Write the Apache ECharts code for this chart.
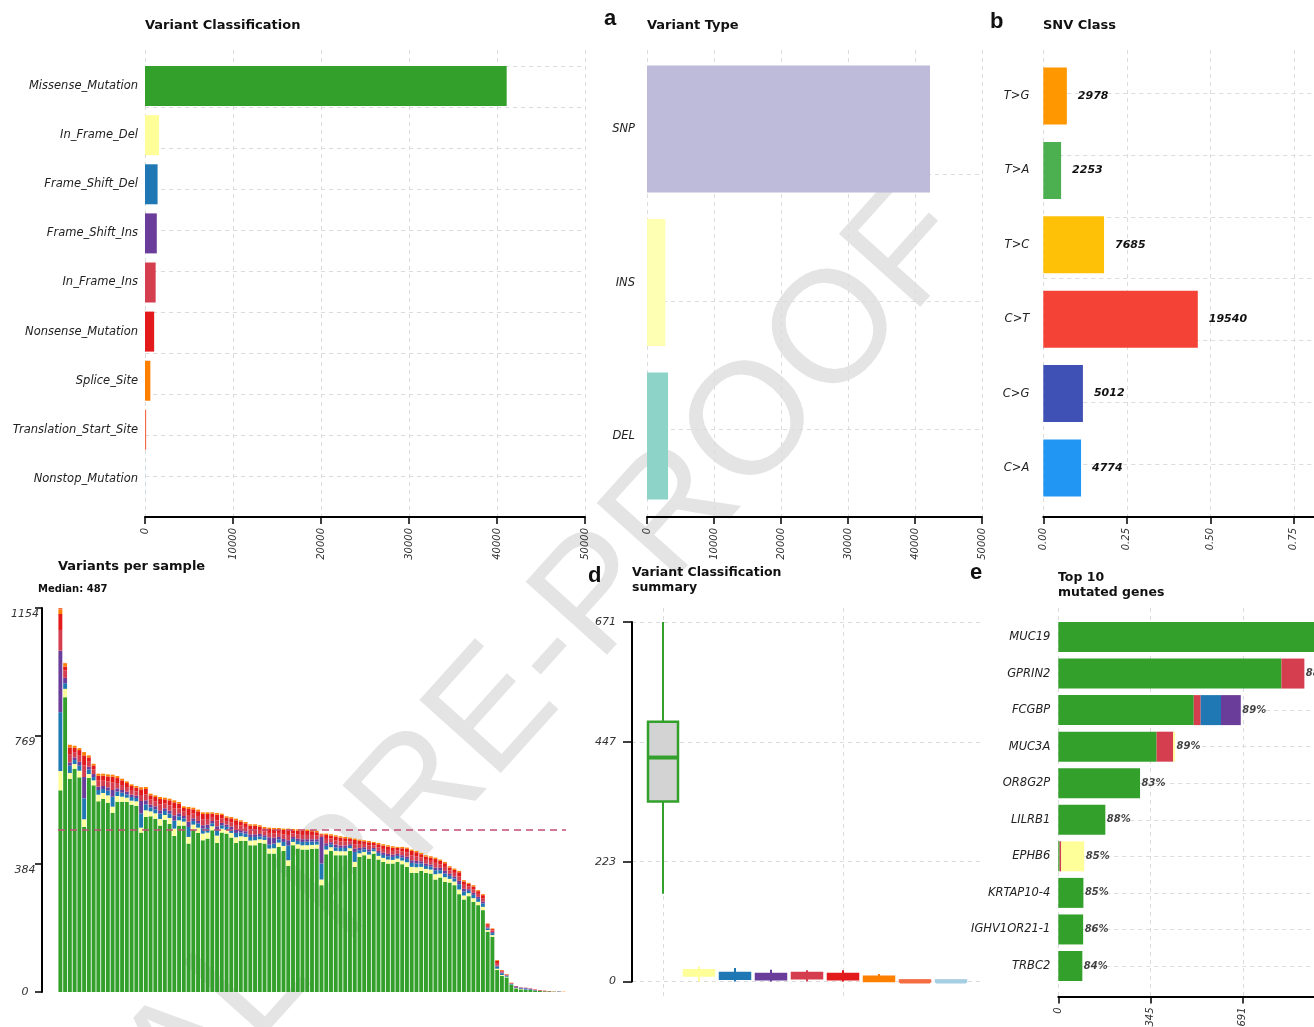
<!DOCTYPE html>
<html>
<head>
<meta charset="utf-8">
<title>MAF summary</title>
<script src="https://cdn.jsdelivr.net/npm/echarts@6/dist/echarts.min.js"></script>
<style>
html, body { margin: 0; padding: 0; background: #fff; }
#chart { width: 1314px; height: 1027px; }
</style>
</head>
<body>
<div id="chart"></div>
<script>
var FONT = 'DejaVu Sans';

// Variant Classification
var vcNames = ['Missense_Mutation', 'In_Frame_Del', 'Frame_Shift_Del', 'Frame_Shift_Ins', 'In_Frame_Ins',
  'Nonsense_Mutation', 'Splice_Site', 'Translation_Start_Site', 'Nonstop_Mutation'];
var vcColors = ['#33a02c', '#ffff99', '#1f78b4', '#6a3d9a', '#d53e4f', '#e31a1c', '#ff7f00', '#f46d43', '#a6cee3'];
var vcCounts = [41100, 1600, 1430, 1340, 1210, 1040, 610, 130, 20];
var vcTicks = [0, 10000, 20000, 30000, 40000, 50000];

// Variant Type
var vtNames = ['SNP', 'INS', 'DEL'];
var vtColors = ['#bebada', '#ffffb3', '#8dd3c7'];
var vtCounts = [42242, 2740, 3140];
var vtTicks = [0, 10000, 20000, 30000, 40000, 50000];

// SNV Class
var snvNames = ['T>G', 'T>A', 'T>C', 'C>T', 'C>G', 'C>A'];
var snvColors = ['#ff9800', '#4caf50', '#ffc107', '#f44336', '#3f51b5', '#2196f3'];
var snvCounts = [2978, 2253, 7685, 19540, 5012, 4774];
var snvTicks = [0, 0.25, 0.5, 0.75, 1];

// Variants per sample, one value per sample (107 samples)
var sampleMissense = [
  606, 886, 641, 671, 645, 496, 643, 621, 573, 580,
  569, 539, 572, 572, 571, 563, 559, 479, 526, 528,
  521, 500, 518, 505, 469, 500, 500, 446, 488, 478,
  456, 461, 486, 448, 479, 476, 464, 448, 454, 454,
  441, 441, 448, 446, 416, 416, 436, 424, 379, 441,
  431, 428, 428, 430, 431, 321, 414, 424, 411, 411,
  411, 424, 376, 406, 411, 401, 416, 398, 391, 386,
  386, 391, 384, 376, 358, 358, 364, 358, 356, 338,
  344, 331, 329, 321, 294, 278, 288, 271, 261, 246,
  181, 166, 66, 48, 44, 21, 11, 8, 6, 6,
  4, 3, 2, 2, 1, 1, 0];
var sampleInFrameDel = [
  58, 25, 17, 14, 20, 23, 12, 15, 20, 18,
  22, 18, 17, 15, 13, 12, 14, 15, 20, 15,
  16, 20, 14, 18, 22, 16, 12, 20, 15, 16,
  20, 18, 12, 22, 12, 11, 14, 17, 14, 12,
  14, 15, 11, 11, 15, 16, 13, 15, 17, 10,
  13, 13, 13, 12, 12, 17, 14, 11, 13, 12,
  12, 8, 15, 11, 10, 12, 7, 11, 12, 12,
  11, 10, 11, 14, 18, 17, 12, 12, 12, 16,
  12, 14, 11, 11, 14, 12, 9, 11, 10, 10,
  5, 5, 4, 3, 2, 1, 1, 1, 1, 0,
  0, 0, 0, 0, 0, 0, 0];
var sampleFrameShiftDel = [
  177, 17, 22, 12, 15, 63, 14, 10, 14, 12,
  14, 30, 13, 12, 10, 11, 10, 42, 18, 12,
  12, 16, 12, 13, 24, 12, 10, 30, 11, 12,
  15, 14, 9, 17, 10, 9, 11, 13, 11, 10,
  11, 10, 9, 8, 12, 14, 10, 12, 45, 9,
  10, 10, 11, 10, 9, 48, 11, 9, 11, 10,
  10, 7, 30, 9, 8, 9, 6, 9, 9, 10,
  9, 8, 9, 10, 12, 11, 10, 9, 9, 12,
  10, 11, 9, 9, 16, 12, 7, 10, 9, 10,
  5, 6, 6, 5, 3, 2, 1, 2, 3, 2,
  1, 0, 0, 0, 0, 0, 0];
var sampleFrameShiftIns = [
  185, 16, 10, 8, 12, 64, 8, 9, 10, 9,
  10, 20, 10, 8, 8, 7, 7, 38, 12, 8,
  9, 10, 8, 9, 16, 9, 7, 16, 8, 8,
  10, 10, 7, 11, 7, 7, 8, 9, 8, 7,
  8, 8, 7, 6, 22, 18, 7, 9, 15, 6,
  7, 8, 7, 7, 7, 80, 8, 6, 8, 7,
  7, 5, 10, 7, 6, 7, 4, 6, 7, 7,
  7, 6, 7, 7, 8, 8, 7, 7, 6, 8,
  7, 8, 6, 6, 10, 8, 5, 6, 6, 6,
  3, 3, 3, 3, 1, 1, 4, 2, 2, 2,
  1, 1, 0, 0, 0, 1, 0];
var sampleInFrameIns = [
  62, 22, 25, 16, 18, 35, 15, 14, 18, 16,
  18, 22, 16, 15, 14, 14, 13, 18, 18, 15,
  15, 18, 14, 16, 20, 15, 13, 20, 14, 15,
  18, 17, 12, 18, 13, 11, 13, 15, 13, 13,
  14, 14, 12, 11, 13, 13, 12, 14, 16, 11,
  12, 13, 13, 13, 11, 4, 13, 11, 12, 13,
  12, 9, 13, 11, 10, 11, 8, 11, 11, 12,
  11, 10, 11, 12, 15, 14, 11, 11, 11, 14,
  11, 12, 10, 11, 13, 12, 9, 10, 9, 10,
  5, 5, 8, 3, 2, 1, 0, 1, 1, 1,
  1, 1, 1, 0, 0, 0, 0];
var sampleNonsense = [
  48, 12, 20, 13, 17, 30, 13, 12, 15, 15,
  15, 18, 15, 14, 12, 12, 11, 17, 16, 13,
  13, 16, 13, 15, 19, 14, 11, 18, 13, 14,
  16, 15, 10, 17, 11, 10, 12, 14, 12, 11,
  12, 12, 10, 10, 12, 12, 11, 13, 14, 9,
  12, 12, 12, 11, 10, 4, 12, 9, 12, 11,
  10, 8, 13, 10, 8, 10, 7, 9, 10, 10,
  10, 8, 10, 11, 13, 12, 10, 10, 10, 12,
  10, 11, 9, 9, 13, 10, 7, 9, 8, 9,
  5, 4, 7, 3, 1, 1, 1, 0, 0, 0,
  1, 1, 1, 1, 0, 0, 0];
var sampleSplice = [
  14, 10, 8, 6, 6, 10, 6, 5, 6, 6,
  6, 6, 6, 5, 5, 5, 5, 6, 6, 5,
  5, 6, 5, 5, 6, 5, 5, 6, 5, 5,
  5, 5, 4, 5, 4, 4, 4, 5, 4, 4,
  4, 4, 4, 4, 4, 4, 4, 4, 5, 4,
  4, 4, 4, 4, 4, 2, 4, 4, 4, 4,
  4, 3, 4, 4, 3, 4, 3, 4, 4, 4,
  4, 3, 4, 4, 4, 4, 4, 4, 4, 4,
  4, 4, 4, 4, 4, 4, 3, 4, 3, 3,
  2, 2, 2, 1, 1, 1, 0, 0, 0, 0,
  0, 0, 0, 0, 0, 0, 1];
var sampleTransStart = [
  4, 1, 0, 0, 0, 0, 0, 0, 0, 0,
  0, 0, 0, 0, 0, 0, 0, 1, 0, 0,
  0, 0, 0, 0, 0, 0, 0, 0, 0, 0,
  0, 0, 0, 0, 0, 0, 0, 0, 0, 0,
  0, 0, 0, 0, 0, 0, 0, 0, 0, 0,
  0, 0, 0, 0, 0, 0, 0, 0, 0, 0,
  0, 0, 0, 0, 0, 0, 0, 0, 0, 0,
  0, 0, 0, 0, 0, 0, 0, 0, 0, 0,
  0, 0, 0, 0, 0, 0, 0, 0, 0, 0,
  0, 0, 0, 0, 0, 0, 0, 0, 0, 0,
  0, 0, 0, 0, 1, 0, 0];
var sampleMedian = 487;
var sampleTicks = [0, 384, 769, 1154];

// Variant Classification summary: [min, q1, median, q3, max] per class
var summaryBoxes = [
  [164, 336, 418, 485, 671],
  [0, 11, 15, 21, 28],
  [0, 5, 10, 16, 25],
  [0, 4, 9, 14, 22],
  [0, 6, 11, 16, 21],
  [0, 4, 9, 14, 21],
  [0, 1, 5, 9, 14],
  [0, 0, 0, 2, 2],
  [0, 0, 0, 2, 2]
];
var summaryTicks = [0, 223, 447, 671];

// Top 10 mutated genes
var genes = ['MUC19', 'GPRIN2', 'FCGBP', 'MUC3A', 'OR8G2P', 'LILRB1', 'EPHB6', 'KRTAP10-4', 'IGHV1OR21-1', 'TRBC2'];
var geneMissense = [1036, 835, 507, 368, 306, 176, 5, 94, 93, 90];
var geneInFrameIns = [0, 86, 26, 62, 0, 0, 6, 0, 0, 0];
var geneFrameShiftDel = [0, 0, 76, 0, 0, 0, 0, 0, 0, 0];
var geneFrameShiftIns = [0, 0, 74, 0, 0, 0, 0, 0, 0, 0];
var geneInFrameDel = [0, 0, 0, 7, 0, 0, 86, 0, 0, 0];
var genePct = ['90%', '88%', '89%', '89%', '83%', '88%', '85%', '85%', '86%', '84%'];
var geneTicks = [0, 345, 691, 1036];

// ---------------------------------------------------------------
var chart = echarts.init(document.getElementById('chart'));

var dashLine = { show: true, lineStyle: { color: '#dcdcdc', width: 1, type: [4, 4] } };
var axisBlack = { show: true, lineStyle: { color: '#000', width: 2 } };
function tickBlack (len) {
  return { show: true, length: len, lineStyle: { color: '#000', width: 1.5 } };
}
var rotLabel = {
  rotate: 90, fontStyle: 'italic', fontSize: 10, color: '#333', fontFamily: FONT, margin: 11,
  formatter: function (v) { return String(v); }
};
function catLabel (margin) {
  return { fontStyle: 'italic', fontSize: 11.5, color: '#222', fontFamily: FONT, margin: margin };
}
function grid (left, top, width, height) {
  return { left: left, top: top, width: width, height: height, containLabel: false, outerBoundsMode: 'none' };
}
function hidden (idx) {
  return { type: 'value', gridIndex: idx, show: false, min: 0, max: 1 };
}
function hlines (idx, max) {
  // dashed horizontal guide lines, one unit apart from the top of the grid
  return {
    type: 'value', gridIndex: idx, inverse: true, min: 0, max: max, interval: 1,
    axisLine: { show: false }, axisTick: { show: false }, axisLabel: { show: false },
    splitLine: { show: true, showMinLine: true, showMaxLine: false, lineStyle: dashLine.lineStyle }
  };
}
function tickLabel (ticks) {
  var step = ticks[ticks.length - 1] / (ticks.length - 1);
  return function (v) { return String(ticks[Math.round(v / step)]); };
}
function colored (values, colors) {
  return values.map(function (v, i) { return { value: v, itemStyle: { color: colors[i] } }; });
}

var snvTotal = snvCounts.reduce(function (a, b) { return a + b; }, 0);
var snvShare = snvCounts.map(function (v) { return v / snvTotal; });
var sampleIds = sampleMissense.map(function (_, i) { return 'S' + (i + 1); });
var sampleMax = sampleTicks[sampleTicks.length - 1];
var summaryMax = summaryTicks[summaryTicks.length - 1];
var geneMax = geneTicks[geneTicks.length - 1];
var geneStack = [geneMissense, geneInFrameIns, geneFrameShiftDel, geneFrameShiftIns, geneInFrameDel];
var geneStackColors = ['#33a02c', '#d53e4f', '#1f78b4', '#6a3d9a', '#ffff99'];
var geneTotals = genes.map(function (_, i) {
  return geneStack.reduce(function (s, arr) { return s + arr[i]; }, 0);
});

var sampleStack = [sampleMissense, sampleInFrameDel, sampleFrameShiftDel, sampleFrameShiftIns,
  sampleInFrameIns, sampleNonsense, sampleSplice, sampleTransStart];

var series = [
  { type: 'bar', xAxisIndex: 2, yAxisIndex: 2, barWidth: 40, data: colored(vcCounts, vcColors) },
  { type: 'bar', xAxisIndex: 5, yAxisIndex: 5, barWidth: 127, data: colored(vtCounts, vtColors) },
  {
    type: 'bar', xAxisIndex: 8, yAxisIndex: 8, barWidth: 57, data: colored(snvShare, snvColors),
    label: {
      show: true, position: 'right', distance: 11,
      formatter: function (p) { return String(snvCounts[p.dataIndex]); },
      fontFamily: FONT, fontSize: 11, fontWeight: 'bold', fontStyle: 'italic', color: '#111'
    }
  }
];

sampleStack.forEach(function (arr, k) {
  var s = {
    type: 'bar', xAxisIndex: 9, yAxisIndex: 9, stack: 'tmb', barCategoryGap: '18%',
    data: arr, itemStyle: { color: vcColors[k] }
  };
  if (k === 0) {
    s.markLine = {
      silent: true, symbol: 'none', label: { show: false },
      lineStyle: { color: '#c44e76', width: 1.5, type: [7, 5] },
      data: [{ yAxis: sampleMedian }]
    };
  }
  series.push(s);
});

series.push({
  type: 'custom', xAxisIndex: 11, yAxisIndex: 11,
  data: summaryBoxes.map(function (b, i) { return [i].concat(b); }),
  renderItem: function (params, api) {
    var x = api.value(0);
    var lo = api.coord([x, api.value(1)]);
    var q1 = api.coord([x, api.value(2)]);
    var md = api.coord([x, api.value(3)]);
    var q3 = api.coord([x, api.value(4)]);
    var hi = api.coord([x, api.value(5)]);
    var half = 15;
    var c = vcColors[params.dataIndex];
    var fill = params.dataIndex === 0 ? '#d3d3d3' : c;
    return {
      type: 'group',
      children: [
        { type: 'line', shape: { x1: lo[0], y1: lo[1], x2: q1[0], y2: q1[1] }, style: { stroke: c, lineWidth: 2 } },
        { type: 'line', shape: { x1: q3[0], y1: q3[1], x2: hi[0], y2: hi[1] }, style: { stroke: c, lineWidth: 2 } },
        { type: 'rect', shape: { x: q3[0] - half, y: q3[1], width: half * 2, height: q1[1] - q3[1] },
          style: { fill: fill, stroke: c, lineWidth: 2.5 } },
        { type: 'line', shape: { x1: md[0] - half, y1: md[1], x2: md[0] + half, y2: md[1] },
          style: { stroke: c, lineWidth: 4 } }
      ]
    };
  }
});

geneStack.forEach(function (arr, k) {
  series.push({
    type: 'bar', xAxisIndex: 13, yAxisIndex: 13, stack: 'genes', barWidth: 30, clip: false,
    data: arr, itemStyle: { color: geneStackColors[k] }
  });
});
series.push({
  type: 'scatter', xAxisIndex: 13, yAxisIndex: 13, clip: false, symbolSize: 1,
  itemStyle: { color: 'rgba(0,0,0,0)' },
  data: genes.map(function (g, i) { return [geneTotals[i], g, genePct[i]]; }),
  label: {
    show: true, position: 'right', distance: 1,
    formatter: function (p) { return p.value[2]; },
    fontFamily: FONT, fontSize: 10, fontWeight: 'bold', fontStyle: 'italic', color: '#111'
  }
});

function title (text, left, top, size, lineHeight) {
  return {
    text: text, left: left, top: top, padding: 0,
    textStyle: { fontFamily: FONT, fontSize: size, fontWeight: 'bold', color: '#111', lineHeight: lineHeight || size }
  };
}
function letter (text, left, top) {
  return {
    text: text, left: left, top: top, padding: 0,
    textStyle: { fontFamily: 'Liberation Sans', fontSize: 22, fontWeight: 'bold', color: '#111', lineHeight: 22 }
  };
}

var option = {
  animation: false,
  backgroundColor: '#fff',
  graphic: [{
    type: 'text', x: 944, y: 215, rotation: Math.PI * 48 / 180, z: -100, silent: true,
    style: {
      text: 'JOURNAL PRE-PROOF', fill: '#e4e4e4', font: '159px "Liberation Sans"',
      textAlign: 'right', textVerticalAlign: 'middle'
    }
  }],
  title: [
    title('Variant Classification', 145, 19, 13),
    title('Variant Type', 647, 19, 13),
    title('SNV Class', 1043, 19, 13),
    title('Variants per sample', 58, 560, 13),
    title('Median: 487', 38, 584, 10),
    title('Variant Classification\nsummary', 632, 565, 12.5, 15),
    title('Top 10\nmutated genes', 1058, 570, 12.5, 15),
    letter('a', 604, 8),
    letter('b', 990, 10.5),
    letter('d', 588, 564.5),
    letter('e', 970, 562)
  ],
  grid: [
    grid(145, 50, 440, 467),
    grid(145, 66, 440, 451),
    grid(145, 61.5, 440, 442),
    grid(647, 50, 335, 467),
    grid(647, 174, 335, 343),
    grid(647, 52.3, 335, 460.5),
    grid(1043.3, 50, 334, 467),
    grid(1043.3, 93, 334, 424),
    grid(1043.3, 58.8, 334, 446.4),
    grid(58, 608, 508, 384),
    grid(632, 622, 348, 359.5),
    grid(663, 608, 288, 390),
    grid(1058.3, 608, 276.8, 388.5),
    grid(1058.3, 637, 276.8, 329)
  ],
  xAxis: [
    { type: 'value', gridIndex: 0, min: 0, max: vcTicks[vcTicks.length - 1], interval: vcTicks[1],
      axisLine: axisBlack, axisTick: tickBlack(7), axisLabel: rotLabel, splitLine: dashLine },
    hidden(1),
    { type: 'value', gridIndex: 2, min: 0, max: vcTicks[vcTicks.length - 1], show: false },
    { type: 'value', gridIndex: 3, min: 0, max: vtTicks[vtTicks.length - 1], interval: vtTicks[1],
      axisLine: axisBlack, axisTick: tickBlack(7), axisLabel: rotLabel, splitLine: dashLine },
    hidden(4),
    { type: 'value', gridIndex: 5, min: 0, max: vtTicks[vtTicks.length - 1], show: false },
    { type: 'value', gridIndex: 6, min: 0, max: snvTicks[snvTicks.length - 1], interval: snvTicks[1],
      axisLine: axisBlack, axisTick: tickBlack(7), splitLine: dashLine,
      axisLabel: Object.assign({}, rotLabel, { formatter: function (v) { return v.toFixed(2); } }) },
    hidden(7),
    { type: 'value', gridIndex: 8, min: 0, max: snvTicks[snvTicks.length - 1], show: false },
    { type: 'category', gridIndex: 9, data: sampleIds, show: false },
    hidden(10),
    { type: 'category', gridIndex: 11, data: vcNames, boundaryGap: false,
      axisLine: { show: false }, axisTick: { show: false }, axisLabel: { show: false }, splitLine: dashLine },
    { type: 'value', gridIndex: 12, min: 0, max: geneMax, interval: geneMax / 3,
      axisLine: axisBlack, axisTick: tickBlack(7), splitLine: dashLine,
      axisLabel: Object.assign({}, rotLabel, { formatter: tickLabel(geneTicks) }) },
    { type: 'value', gridIndex: 13, min: 0, max: geneMax, show: false }
  ],
  yAxis: [
    hidden(0),
    hlines(1, 11),
    { type: 'category', gridIndex: 2, data: vcNames, inverse: true,
      axisLine: { show: false }, axisTick: { show: false }, axisLabel: catLabel(7) },
    hidden(3),
    hlines(4, 2.69),
    { type: 'category', gridIndex: 5, data: vtNames, inverse: true,
      axisLine: { show: false }, axisTick: { show: false }, axisLabel: catLabel(12) },
    hidden(6),
    hlines(7, 6.85),
    { type: 'category', gridIndex: 8, data: snvNames, inverse: true,
      axisLine: { show: false }, axisTick: { show: false }, axisLabel: catLabel(14) },
    { type: 'value', gridIndex: 9, min: 0, max: sampleMax, interval: sampleMax / 3, offset: 16,
      axisLine: axisBlack, axisTick: tickBlack(7), splitLine: { show: false },
      axisLabel: {
        margin: 17, align: 'center', fontStyle: 'italic', fontSize: 11, color: '#333', fontFamily: FONT,
        formatter: function (v) {
          var i = Math.round(v / (sampleMax / 3));
          return (i === 0 ? '{z|' : '{n|') + sampleTicks[i] + '}';
        },
        rich: {
          z: { fontStyle: 'italic', fontSize: 11, color: '#333', fontFamily: FONT },
          n: { fontStyle: 'italic', fontSize: 11, color: '#333', fontFamily: FONT, padding: [12, 0, 0, 0] }
        }
      } },
    { type: 'value', gridIndex: 10, min: 0, max: summaryMax, interval: summaryMax / 3,
      axisLine: axisBlack, axisTick: tickBlack(9), splitLine: dashLine,
      axisLabel: { margin: 16, fontStyle: 'italic', fontSize: 11, color: '#333', fontFamily: FONT,
        formatter: tickLabel(summaryTicks) } },
    { type: 'value', gridIndex: 11, min: -30.8, max: 697.1, show: false },
    hidden(12),
    { type: 'category', gridIndex: 13, data: genes, inverse: true, boundaryGap: false,
      axisLine: { show: false }, axisTick: { show: false }, axisLabel: catLabel(8), splitLine: dashLine }
  ],
  series: series
};

chart.setOption(option);
</script>
</body>
</html>
